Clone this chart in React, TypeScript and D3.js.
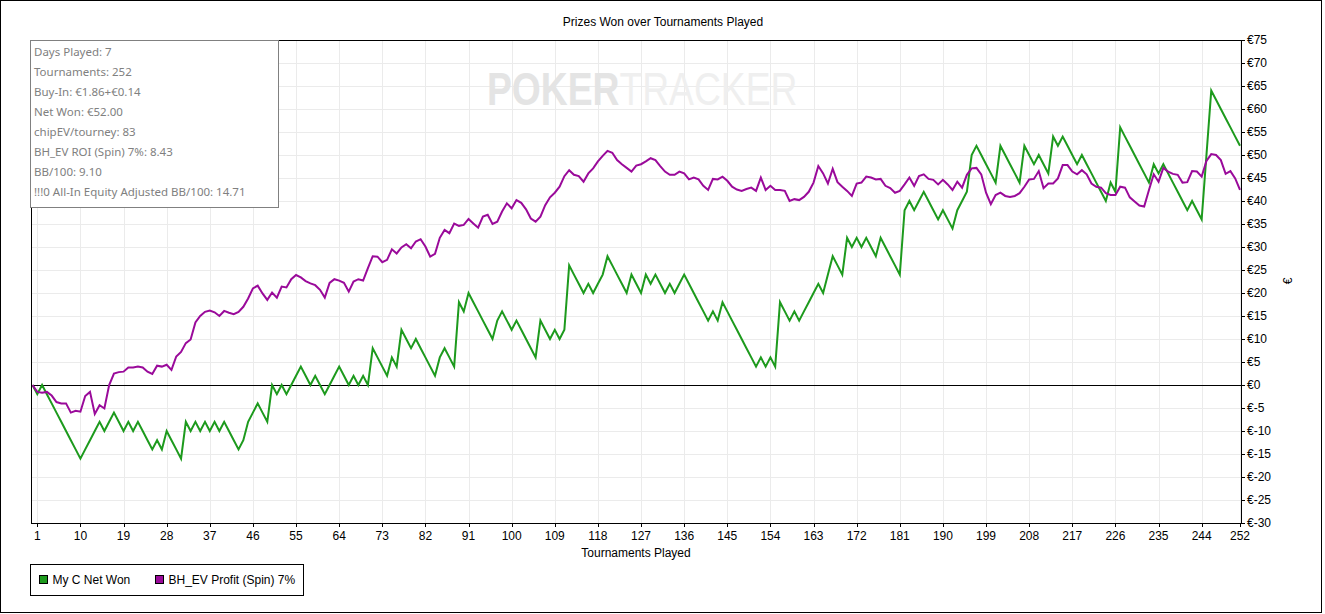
import React from 'react';
import * as d3 from 'd3';

// net won per tournament (index 0 = start)
const netWon = [
  0, -2, 0, -2, -4, -6, -8, -10, -12, -14,
  -16, -14, -12, -10, -8, -10, -8, -6, -8, -10,
  -8, -10, -8, -10, -12, -14, -12, -14, -10, -12,
  -14, -16, -8, -10, -8, -10, -8, -10, -8, -10,
  -8, -10, -12, -14, -12, -8, -6, -4, -6, -8,
  0, -2, 0, -2, 0, 2, 4, 2, 0, 2,
  0, -2, 0, 2, 4, 2, 0, 2, 0, 2,
  0, 8, 6, 4, 2, 6, 4, 12, 10, 8,
  10, 8, 6, 4, 2, 6, 8, 6, 4, 18,
  16, 20, 18, 16, 14, 12, 10, 14, 16, 14,
  12, 14, 12, 10, 8, 6, 14, 12, 10, 12,
  10, 12, 26, 24, 22, 20, 22, 20, 22, 24,
  28, 26, 24, 22, 20, 24, 22, 20, 24, 22,
  24, 22, 20, 22, 20, 22, 24, 22, 20, 18,
  16, 14, 16, 14, 18, 16, 14, 12, 10, 8,
  6, 4, 6, 4, 6, 4, 18, 16, 14, 16,
  14, 16, 18, 20, 22, 20, 24, 28, 26, 24,
  32, 30, 32, 30, 32, 30, 28, 32, 30, 28,
  26, 24, 38, 40, 38, 40, 42, 40, 38, 36,
  38, 36, 34, 38, 40, 42, 50, 52, 50, 48,
  46, 44, 52, 50, 48, 46, 44, 52, 50, 48,
  50, 48, 46, 54, 52, 54, 52, 50, 48, 50,
  48, 46, 44, 42, 40, 44, 42, 56, 54, 52,
  50, 48, 46, 44, 48, 46, 48, 46, 44, 42,
  40, 38, 40, 38, 36, 50, 64, 62, 60, 58,
  56, 54, 52,
];

const bhEvProfit = [
  0, -1.5, -1.7, -1.5, -2.3, -3.7, -4, -4, -6, -5.6,
  -5.8, -2.4, -1.5, -6.3, -4.4, -5.1, 0, 2.5, 2.8, 2.9,
  3.8, 3.8, 4, 3.8, 2.9, 2.4, 4.2, 4, 4.4, 3.3,
  6.2, 7.2, 9.1, 9.9, 13.6, 15, 15.9, 16.2, 15.8, 15,
  16.1, 15.7, 15.4, 15.9, 17, 18.8, 21, 21.6, 19.9, 18.5,
  20.1, 19, 21.4, 21.2, 23, 23.9, 23.4, 22.6, 22.1, 21.7,
  20.7, 19, 22.2, 23, 22.7, 22.2, 20.3, 22.5, 23, 22.7,
  25.4, 28, 27.9, 26.7, 27.2, 29.5, 28.6, 29.9, 30.6, 29.7,
  31.2, 31.7, 30.1, 27.9, 28.5, 32, 33.7, 33, 35.1, 34.6,
  34.8, 36.1, 35.1, 34.2, 36.6, 37, 35, 35.5, 37.7, 39.5,
  38.4, 40.2, 39.6, 38.2, 36.2, 35.5, 36.6, 39.1, 40.8, 41.8,
  43.1, 45.4, 46.7, 45.7, 45.4, 44.2, 46, 47.1, 48.6, 49.8,
  50.9, 50.5, 48.9, 48, 47.2, 46.4, 47.7, 48, 48.6, 49.3,
  48.9, 47.6, 46.4, 45.7, 45.7, 46.4, 46, 44.7, 45.1, 44.7,
  43.3, 42.4, 44.8, 44.7, 45.3, 44.4, 43.1, 42.5, 42.2, 42.6,
  42.9, 42.2, 45.1, 42.4, 43.3, 42.4, 42.4, 42.2, 40, 40.4,
  40.2, 40.9, 42, 44, 47.6, 46, 43.8, 47, 44.1, 43.1,
  42.2, 41.1, 43.8, 44, 45.3, 45.1, 44.7, 44.8, 43.3, 42.8,
  41.8, 42.2, 43.6, 45.1, 43.3, 45.4, 45.8, 44.8, 44.6, 43.6,
  44.6, 43.6, 42.4, 44.2, 42.9, 45.7, 47.1, 47.2, 45.8, 41.8,
  39.3, 41.3, 41.8, 41.1, 40.9, 41.1, 41.7, 43.1, 44.7, 44.8,
  46.5, 42.8, 43.8, 43.8, 44.9, 47.8, 47.8, 46.4, 45.8, 46.7,
  45.8, 43.8, 43.1, 42.9, 41.7, 41.3, 41.3, 43.1, 42.9, 40.8,
  39.9, 39, 38.8, 42.4, 45.8, 44.2, 47.2, 46.4, 45.9, 45.7,
  44, 44.1, 46.5, 46.4, 45.3, 48.7, 50.2, 50, 48.9, 45.9,
  46.5, 44.9, 42.4,
];

const tournamentTicks = [
  1, 10, 19, 28, 37, 46, 55, 64, 73, 82, 91, 100, 109, 118, 127, 136,
  145, 154, 163, 172, 181, 190, 199, 208, 217, 226, 235, 244, 252,
];
const euroTicks = [
  -30, -25, -20, -15, -10, -5, 0, 5, 10, 15, 20, 25, 30, 35, 40, 45, 50,
  55, 60, 65, 70, 75,
];

const statLines = [
  'Days Played: 7',
  'Tournaments: 252',
  'Buy-In: €1.86+€0.14',
  'Net Won: €52.00',
  'chipEV/tourney: 83',
  'BH_EV ROI (Spin) 7%: 8.43',
  'BB/100: 9.10',
  '!!!0 All-In Equity Adjusted BB/100: 14.71',
];

const seriesNames = ['My C Net Won', 'BH_EV Profit (Spin) 7%'];
const seriesColors = ['#1d9a1d', '#9a0a9a'];

const FONT = '"Liberation Sans", Arial, sans-serif';

const App: React.FC = () => {
  const left = 31, right = 1241, top = 40, bottom = 523;

  const x = d3.scaleLinear().domain([0, 252]).range([32.5, 1240]);
  const y = d3.scaleLinear().domain([-30, 75]).range([bottom, top]);

  const line = d3.line<number>()
    .x((_, i) => x(i))
    .y(d => y(d));

  const euro = (v: number) => (v < 0 ? `€-${-v}` : `€${v}`);

  return (
    <svg
      width="1325"
      height="614"
      viewBox="0 0 1325 614"
      style={{ position: 'absolute', left: 0, top: 0, fontFamily: FONT }}
    >
      <rect x="0" y="0" width="1325" height="614" fill="#fff" />
      <rect x="0.5" y="0.5" width="1321" height="612" fill="none" stroke="#000" />

      <text x="663" y="26" textAnchor="middle" fontSize="12" fill="#000">
        Prizes Won over Tournaments Played
      </text>

      {/* grid */}
      {euroTicks.map(v => (
        <line key={`gy-${v}`} x1={left} x2={right} y1={y(v) + 0.5} y2={y(v) + 0.5} stroke="#ebebeb" />
      ))}
      {tournamentTicks.map(t => (
        <line key={`gx-${t}`} x1={Math.round(x(t)) + 0.5} x2={Math.round(x(t)) + 0.5} y1={top} y2={bottom} stroke="#ebebeb" />
      ))}

      {/* watermark */}
      <text transform="translate(487,105) scale(0.81,1)" fontSize="46">
        <tspan fontWeight="bold" fill="#e4e4e4">POKER</tspan>
        <tspan fill="#efefef">TRACKER</tspan>
      </text>

      {/* zero line */}
      <line x1={left} x2={right} y1={Math.round(y(0)) + 0.5} y2={Math.round(y(0)) + 0.5} stroke="#000" />

      {/* series */}
      <path d={line(netWon) ?? ''} fill="none" stroke={seriesColors[0]} strokeWidth="2" />
      <path d={line(bhEvProfit) ?? ''} fill="none" stroke={seriesColors[1]} strokeWidth="2" />

      {/* frame */}
      <rect x={left + 0.5} y={top + 0.5} width={right - left} height={bottom - top} fill="none" stroke="#000" />

      {/* right axis */}
      {euroTicks.map(v => (
        <g key={`ty-${v}`}>
          <line x1={right} x2={right + 4} y1={Math.round(y(v)) + 0.5} y2={Math.round(y(v)) + 0.5} stroke="#000" />
          <text x={right + 6} y={y(v) + 4} fontSize="12" fill="#000">{euro(v)}</text>
        </g>
      ))}
      <text transform="translate(1292,281) rotate(-90)" textAnchor="middle" fontSize="12" fill="#000">€</text>

      {/* bottom axis */}
      {tournamentTicks.map(t => (
        <g key={`tx-${t}`}>
          <line x1={Math.round(x(t)) + 0.5} x2={Math.round(x(t)) + 0.5} y1={bottom} y2={bottom + 4} stroke="#000" />
          <text x={x(t)} y={540} textAnchor="middle" fontSize="12" fill="#000">{t}</text>
        </g>
      ))}
      <text x="636" y="557" textAnchor="middle" fontSize="12" fill="#000">Tournaments Played</text>

      {/* stats box */}
      <rect x="30.5" y="40.5" width="248" height="167" fill="#fff" stroke="#808080" />
      {statLines.map((s, i) => (
        <text key={s} x="34" y={56 + i * 20} fontSize="11.5" fill="#808080" fontFamily='"Noto Sans", sans-serif'>
          {s}
        </text>
      ))}

      {/* legend */}
      <rect x="30.5" y="564.5" width="273" height="31" fill="#fff" stroke="#000" />
      {seriesNames.map((name, i) => {
        const lx = i === 0 ? 39.5 : 155.5;
        return (
          <g key={name}>
            <rect x={lx} y="575.5" width="8" height="8" fill={seriesColors[i]} stroke="#000" />
            <text x={lx + 13} y="584" fontSize="12" fill="#000">{name}</text>
          </g>
        );
      })}
    </svg>
  );
};

export default App;
